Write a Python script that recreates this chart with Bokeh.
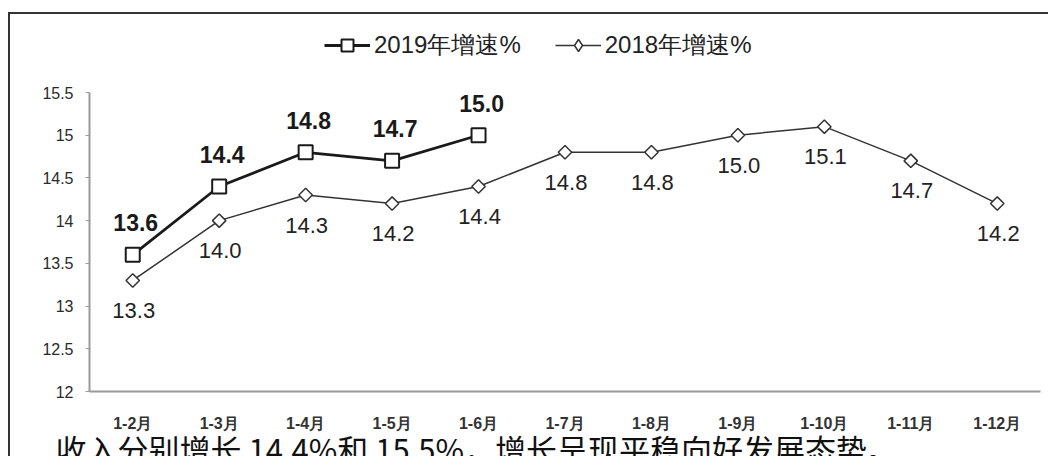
import math
from bokeh.plotting import figure
from bokeh.models import (ColumnDataSource, Range1d, FixedTicker,
                          NumeralTickFormatter, Legend, LegendItem)
from bokeh.core.properties import value
from bokeh.embed import file_html
from bokeh.resources import INLINE

# ---- data ----
months = ["1-2月", "1-3月", "1-4月", "1-5月", "1-6月", "1-7月",
          "1-8月", "1-9月", "1-10月", "1-11月", "1-12月"]
months_2019 = ["1-2月", "1-3月", "1-4月", "1-5月", "1-6月"]
growth_2019 = [13.6, 14.4, 14.8, 14.7, 15.0]
growth_2018 = [13.3, 14.0, 14.3, 14.2, 14.4, 14.8, 14.8, 15.0, 15.1, 14.7, 14.2]
y_ticks = [12, 12.5, 13, 13.5, 14, 14.5, 15, 15.5]
name_2019 = "2019年增速%"
name_2018 = "2018年增速%"
footer_text = "收入分别增长 14.4%和 15.5%，增长呈现平稳向好发展态势。"

# category index positions (x axis is a numeric index axis labelled with months)
idx = {m: i for i, m in enumerate(months)}
src19 = ColumnDataSource(dict(x=[idx[m] for m in months_2019], y=growth_2019,
                              lab=[f"{v:.1f}" for v in growth_2019]))
src18 = ColumnDataSource(dict(x=[idx[m] for m in months], y=growth_2018,
                              lab=[f"{v:.1f}" for v in growth_2018]))

FONT_NAME = "Liberation Sans"
FONT = value(FONT_NAME)

x_lo, x_hi = -0.5, len(months) - 0.5
p = figure(width=1040, height=444, output_backend="svg", toolbar_location=None,
           x_range=Range1d(-1.414, 10.616), y_range=Range1d(11.216, 16.413),
           min_border_left=0, min_border_right=0, min_border_top=0,
           min_border_bottom=0)
p.styles = {"border-top": "2px solid #333333", "border-left": "2px solid #333333",
            "margin-top": "12px", "margin-left": "8px"}
p.outline_line_color = None
p.xgrid.visible = False
p.ygrid.visible = False
p.background_fill_color = "white"
p.border_fill_color = "white"

# axes, pinned inside the frame
p.yaxis.fixed_location = x_lo
p.yaxis.bounds = (y_ticks[0], y_ticks[-1])
p.yaxis.ticker = FixedTicker(ticks=y_ticks)
p.yaxis.formatter = NumeralTickFormatter(format="0.[0]")
p.yaxis.minor_tick_line_color = None
p.yaxis.major_tick_out = 4
p.yaxis.major_tick_in = 0
p.yaxis.major_tick_line_color = "#9a9a9a"
p.yaxis.axis_line_color = "#9a9a9a"
p.yaxis.axis_line_width = 2
p.yaxis.major_label_standoff = 12
p.yaxis.major_label_text_font = FONT_NAME
p.yaxis.major_label_text_font_size = "16px"
p.yaxis.major_label_text_color = "#2a2a2a"

p.xaxis.fixed_location = y_ticks[0]
p.xaxis.bounds = (x_lo, x_hi)
p.xaxis.ticker = FixedTicker(ticks=list(range(len(months))))
p.xaxis.major_label_overrides = {i: m for i, m in enumerate(months)}
p.xaxis.minor_tick_line_color = None
p.xaxis.major_tick_out = 0
p.xaxis.major_tick_in = 0
p.xaxis.axis_line_color = "#9a9a9a"
p.xaxis.axis_line_width = 2
p.xaxis.major_label_standoff = 23
p.xaxis.major_label_text_font = FONT_NAME
p.xaxis.major_label_text_font_size = "16px"
p.xaxis.major_label_text_font_style = "bold"
p.xaxis.major_label_text_color = "#333333"

# series 2018
l18 = p.line("x", "y", source=src18, line_color="#333333", line_width=1.5)
m18 = p.scatter("x", "y", source=src18, marker="square", angle=math.pi / 4,
                size=9.5, fill_color="white", line_color="#333333", line_width=1.5)
p.text("x", "y", text="lab", source=src18, text_align="center",
       text_baseline="middle", y_offset=30, x_offset=1, text_font=FONT,
       text_font_size="22px", text_color="#222222")

# series 2019
l19 = p.line("x", "y", source=src19, line_color="#1a1a1a", line_width=2.8)
m19 = p.scatter("x", "y", source=src19, marker="square", size=14,
                fill_color="white", line_color="#1a1a1a", line_width=2)
p.text("x", "y", text="lab", source=src19, text_align="center",
       text_baseline="middle", y_offset=-32, x_offset=3, text_font=FONT,
       text_font_size="23px", text_font_style="bold", text_color="#1a1a1a")

# legend-only diamond key for the 2018 series (NaN point: never drawn in the plot)
key18 = p.scatter(x=[float("nan")], y=[float("nan")], marker="diamond",
                  fill_color="white", line_color="#333333", line_width=1.5)

legend = Legend(items=[LegendItem(label=name_2019, renderers=[l19, m19]),
                       LegendItem(label=name_2018, renderers=[l18, key18])],
                orientation="horizontal", location=(314, 397),
                glyph_width=46, glyph_height=30, label_standoff=4, spacing=34,
                padding=10, border_line_color=None, background_fill_alpha=0,
                label_text_font=FONT_NAME, label_text_font_size="24px",
                label_text_color="#222222")
p.add_layout(legend, "center")

# document text cut by the bottom edge of the picture
p.text(x=[-0.893], y=[11.602], text=[footer_text], text_baseline="top",
       text_align="left", text_font=value("Noto Sans CJK SC"),
       text_font_size="31px", text_color="#111111")

open("out.html", "w").write(file_html(p, INLINE))
